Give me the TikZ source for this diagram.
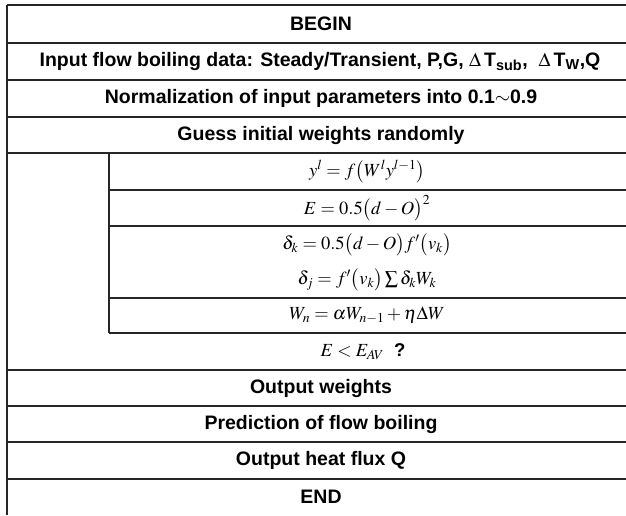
\documentclass[tikz,border=0pt]{standalone}
\usepackage{mathptmx}
\usepackage{fontspec}
\setmainfont{Liberation Sans}
\begin{document}
\begin{tikzpicture}[x=1pt,y=-1pt,
  rule/.style={line width=1.1pt, draw=black!85},
  txt/.style={font=\fontsize{19.5}{21}\selectfont\bfseries, inner sep=0pt, anchor=center},
  eq/.style={font=\fontsize{18.5}{20}\selectfont, inner sep=0pt, anchor=center}]
\useasboundingbox (0,0) rectangle (626,515);
% frame lines
\draw[rule, line width=1.6pt] (7,5) -- (7,515);
\foreach \yy in {5,43,80,117,153,370,406,442,479}
  \draw[rule] (7,\yy) -- (626,\yy);
\draw[rule] (109,153) -- (109,333);
\foreach \yy in {190,226,298,333}
  \draw[rule] (109,\yy) -- (626,\yy);
% texts
\node[txt] (begin) at (321,24) {BEGIN};
\node[txt] (input) at (320,61.5) {Input flow boiling data: Steady/Transient, P,G, $\Delta$\,T\textsubscript{sub},\ \ $\Delta$\,T\textsubscript{W},Q};
\node[txt] (norm) at (321,98.5) {Normalization of input parameters into 0.1$\sim$0.9};
\node[txt] (guess) at (321,135) {Guess initial weights randomly};
\node[eq] (f1) at (367,171.5) {$y^{l} = f\bigl(W^{l} y^{l-1}\bigr)$};
\node[eq] (f2) at (367,208) {$E = 0.5\bigl(d-O\bigr)^{2}$};
\node[eq] (f3) at (367,245) {$\delta_{k} = 0.5\bigl(d-O\bigr)f'\bigl(v_{k}\bigr)$};
\node[eq] (f4) at (367,280) {$\delta_{j} = f'\bigl(v_{k}\bigr)\sum \delta_{k} W_{k}$};
\node[eq] (f5) at (367,315.5) {$W_{n} = \alpha W_{n-1} + \eta\Delta W$};
\node[eq] (f6) at (363,351.5) {$E < E_{AV}$\ \ \textbf{?}};
\node[txt] (outw) at (321,388) {Output weights};
\node[txt] (pred) at (321,424) {Prediction of flow boiling};
\node[txt] (outq) at (321,460.5) {Output heat flux Q};
\node[txt] (end) at (321,497) {END};
\end{tikzpicture}
\end{document}
